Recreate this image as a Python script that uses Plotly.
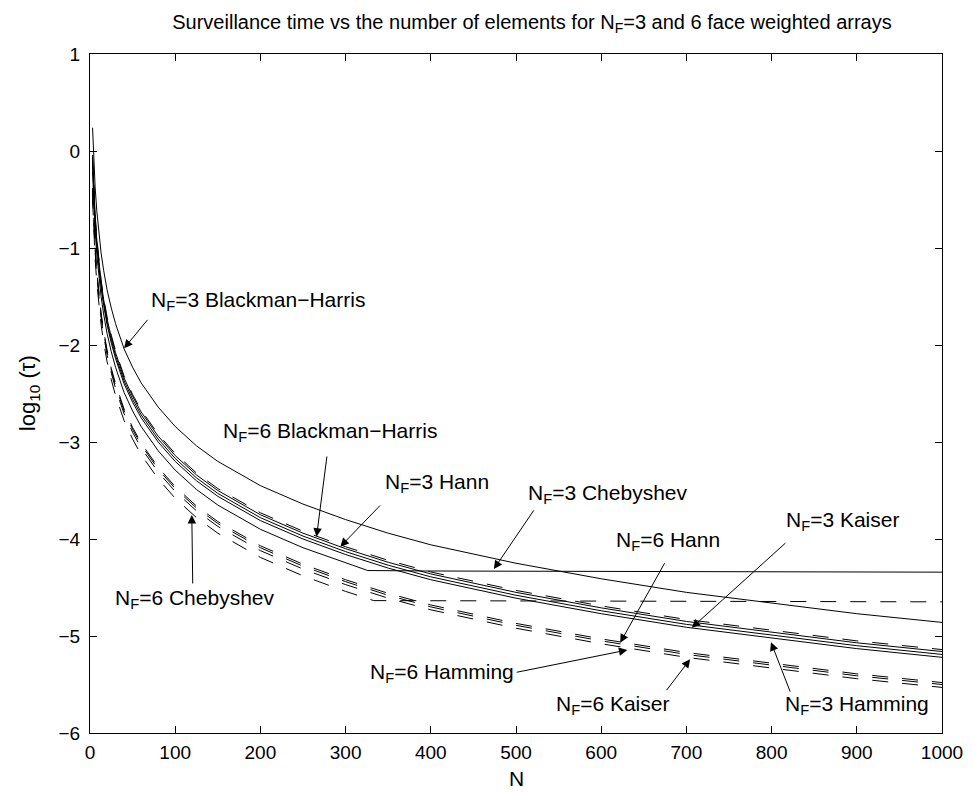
import plotly.graph_objects as go

# ---------------- data ----------------
N_common = [3, 4, 5, 6, 8, 10, 13, 16, 20, 25, 30, 40, 50, 60, 80, 100, 125, 150,
            200, 250, 300, 350, 400, 500, 600, 700, 800, 900, 1000]

bh3 = [0.24, -0.02, -0.21, -0.37, -0.62, -0.82, -1.05, -1.23, -1.43, -1.62, -1.78, -2.04,
       -2.23, -2.39, -2.64, -2.84, -3.04, -3.20, -3.45, -3.64, -3.80, -3.94, -4.06, -4.25,
       -4.41, -4.55, -4.66, -4.77, -4.86]
bh6 = [-0.04, -0.30, -0.49, -0.65, -0.90, -1.10, -1.33, -1.51, -1.71, -1.90, -2.06, -2.32,
       -2.51, -2.67, -2.92, -3.12, -3.32, -3.48, -3.73, -3.92, -4.08, -4.22, -4.34, -4.53,
       -4.69, -4.83, -4.94, -5.05, -5.14]
hann3 = [-0.06, -0.32, -0.51, -0.67, -0.92, -1.12, -1.35, -1.53, -1.73, -1.92, -2.08, -2.34,
         -2.53, -2.69, -2.94, -3.14, -3.34, -3.50, -3.75, -3.94, -4.10, -4.24, -4.36, -4.55,
         -4.71, -4.85, -4.96, -5.07, -5.16]
kaiser3 = [-0.09, -0.35, -0.54, -0.70, -0.95, -1.15, -1.38, -1.56, -1.76, -1.95, -2.11, -2.37,
           -2.56, -2.72, -2.97, -3.17, -3.37, -3.53, -3.78, -3.97, -4.13, -4.27, -4.39, -4.58,
           -4.74, -4.88, -4.99, -5.10, -5.19]
hamming3 = [-0.12, -0.38, -0.57, -0.73, -0.98, -1.18, -1.41, -1.59, -1.79, -1.98, -2.14, -2.40,
            -2.59, -2.75, -3.00, -3.20, -3.40, -3.56, -3.81, -4.00, -4.16, -4.30, -4.42, -4.61,
            -4.77, -4.91, -5.02, -5.13, -5.22]
hann6 = [-0.38, -0.64, -0.83, -0.99, -1.24, -1.44, -1.67, -1.85, -2.05, -2.24, -2.40, -2.66,
         -2.85, -3.01, -3.26, -3.46, -3.66, -3.82, -4.07, -4.26, -4.42, -4.56, -4.68, -4.87,
         -5.03, -5.17, -5.28, -5.39, -5.48]
hamming6 = [-0.40, -0.66, -0.85, -1.01, -1.26, -1.46, -1.69, -1.87, -2.07, -2.26, -2.42, -2.68,
            -2.87, -3.03, -3.28, -3.48, -3.68, -3.84, -4.09, -4.28, -4.44, -4.58, -4.70, -4.89,
            -5.05, -5.19, -5.30, -5.41, -5.50]
kaiser6 = [-0.43, -0.69, -0.88, -1.04, -1.29, -1.49, -1.72, -1.90, -2.10, -2.29, -2.45, -2.71,
           -2.90, -3.06, -3.31, -3.51, -3.71, -3.87, -4.12, -4.31, -4.47, -4.61, -4.73, -4.92,
           -5.08, -5.22, -5.33, -5.44, -5.53]

N_cheb3 = [3, 4, 5, 6, 8, 10, 13, 16, 20, 25, 30, 40, 50, 60, 80, 100, 125, 150,
           200, 250, 300, 326, 400, 500, 600, 700, 800, 900, 1000]
cheb3 = [-0.21, -0.47, -0.66, -0.82, -1.07, -1.27, -1.50, -1.68, -1.88, -2.07, -2.23, -2.49,
         -2.68, -2.84, -3.09, -3.29, -3.49, -3.65, -3.90, -4.09, -4.25, -4.325, -4.33, -4.332,
         -4.335, -4.337, -4.338, -4.34, -4.342]
N_cheb6 = [3, 4, 5, 6, 8, 10, 13, 16, 20, 25, 30, 40, 50, 60, 80, 100, 125, 150,
           200, 250, 300, 333, 400, 500, 600, 700, 800, 900, 1000]
cheb6 = [-0.50, -0.76, -0.95, -1.11, -1.36, -1.56, -1.79, -1.97, -2.17, -2.36, -2.52, -2.78,
         -2.97, -3.13, -3.38, -3.58, -3.78, -3.94, -4.19, -4.38, -4.54, -4.635, -4.636, -4.638,
         -4.64, -4.642, -4.644, -4.646, -4.648]

x_ticks = [0, 100, 200, 300, 400, 500, 600, 700, 800, 900, 1000]
y_ticks = [-6, -5, -4, -3, -2, -1, 0, 1]

# label texts: (text, x_left, y_middle)
labels = [
    ("N<sub>F</sub>=3 Blackman\u2212Harris", 69, -1.55),
    ("N<sub>F</sub>=6 Blackman\u2212Harris", 154, -2.90),
    ("N<sub>F</sub>=3 Hann", 344, -3.42),
    ("N<sub>F</sub>=3 Chebyshev", 512, -3.54),
    ("N<sub>F</sub>=6 Chebyshev", 26.5, -4.62),
    ("N<sub>F</sub>=3 Kaiser", 815, -3.81),
    ("N<sub>F</sub>=6 Hann", 615, -4.02),
    ("N<sub>F</sub>=6 Hamming", 326, -5.38),
    ("N<sub>F</sub>=6 Kaiser", 545, -5.71),
    ("N<sub>F</sub>=3 Hamming", 813, -5.71),
]
# arrows: (tail_x, tail_y, tip_x, tip_y)
arrows = [
    (69, -1.725, 40, -2.034),
    (278.3, -3.134, 265.9, -3.976),
    (342.2, -3.639, 293.8, -4.079),
    (522, -3.69, 474, -4.31),
    (120.6, -4.474, 119.5, -3.753),
    (818, -4.028, 706.3, -4.915),
    (675.4, -4.234, 622.3, -5.069),
    (499, -5.377, 630.8, -5.144),
    (675.4, -5.574, 704.4, -5.24),
    (822.5, -5.59, 799.3, -5.064),
]

FONT = "Liberation Sans, Arial, Helvetica, sans-serif"
DASH = "16px,14px"

fig = go.Figure()
series = [
    (N_common, bh3, "solid"), (N_common, hann3, "solid"), (N_common, kaiser3, "solid"),
    (N_common, hamming3, "solid"), (N_cheb3, cheb3, "solid"),
    (N_common, bh6, DASH), (N_common, hann6, DASH), (N_common, hamming6, DASH),
    (N_common, kaiser6, DASH), (N_cheb6, cheb6, DASH),
]
for xs, ys, d in series:
    fig.add_trace(go.Scatter(x=xs, y=ys, mode="lines",
                             line=dict(color="black", width=1, dash=d),
                             showlegend=False, hoverinfo="skip"))

ann = []
for t, x, y in labels:
    ann.append(dict(text=t, x=x, y=y, xref="x", yref="y", xanchor="left", yanchor="middle",
                    showarrow=False, font=dict(family=FONT, size=21, color="black")))
for tx, ty, hx, hy in arrows:
    ann.append(dict(text="", x=hx, y=hy, ax=tx, ay=ty, xref="x", yref="y",
                    axref="x", ayref="y", showarrow=True, arrowhead=2, arrowsize=1.7,
                    arrowwidth=1, arrowcolor="black", standoff=0, startstandoff=0))
# axis labels
ann.append(dict(text="N", x=0.5, y=-(778 - 733) / 679, xref="paper", yref="paper",
                xanchor="center", yanchor="middle", showarrow=False,
                font=dict(family=FONT, size=21, color="black")))
ann.append(dict(text="log<sub>10</sub> (\u03c4)", x=-(90 - 28) / 861, y=0.5, xref="paper",
                yref="paper", xanchor="center", yanchor="middle", textangle=-90,
                showarrow=False, font=dict(family=FONT, size=22, color="black")))

fig.update_layout(
    width=975, height=792,
    margin=dict(l=90, r=24, t=54, b=59),
    paper_bgcolor="white", plot_bgcolor="white",
    title=dict(text="Surveillance time vs the number of elements for N<sub>F</sub>=3 and 6 face weighted arrays",
               x=532 / 975, xanchor="center", y=1 - 22 / 792, yanchor="middle",
               font=dict(family=FONT, size=20, color="black")),
    annotations=ann,
    font=dict(family=FONT, color="black"),
)
fig.update_xaxes(range=[0, 1000], tickvals=x_ticks, ticks="inside", ticklen=7,
                 tickcolor="black", showline=True, linecolor="black", linewidth=1,
                 mirror="allticks", showgrid=False, zeroline=False,
                 tickfont=dict(family=FONT, size=19, color="black"), ticklabelstandoff=2)
fig.update_yaxes(range=[-6, 1], tickvals=y_ticks, ticks="inside", ticklen=7,
                 tickcolor="black", showline=True, linecolor="black", linewidth=1,
                 mirror="allticks", showgrid=False, zeroline=False,
                 tickfont=dict(family=FONT, size=19, color="black"), ticklabelstandoff=5)

fig.write_html("out.html")
